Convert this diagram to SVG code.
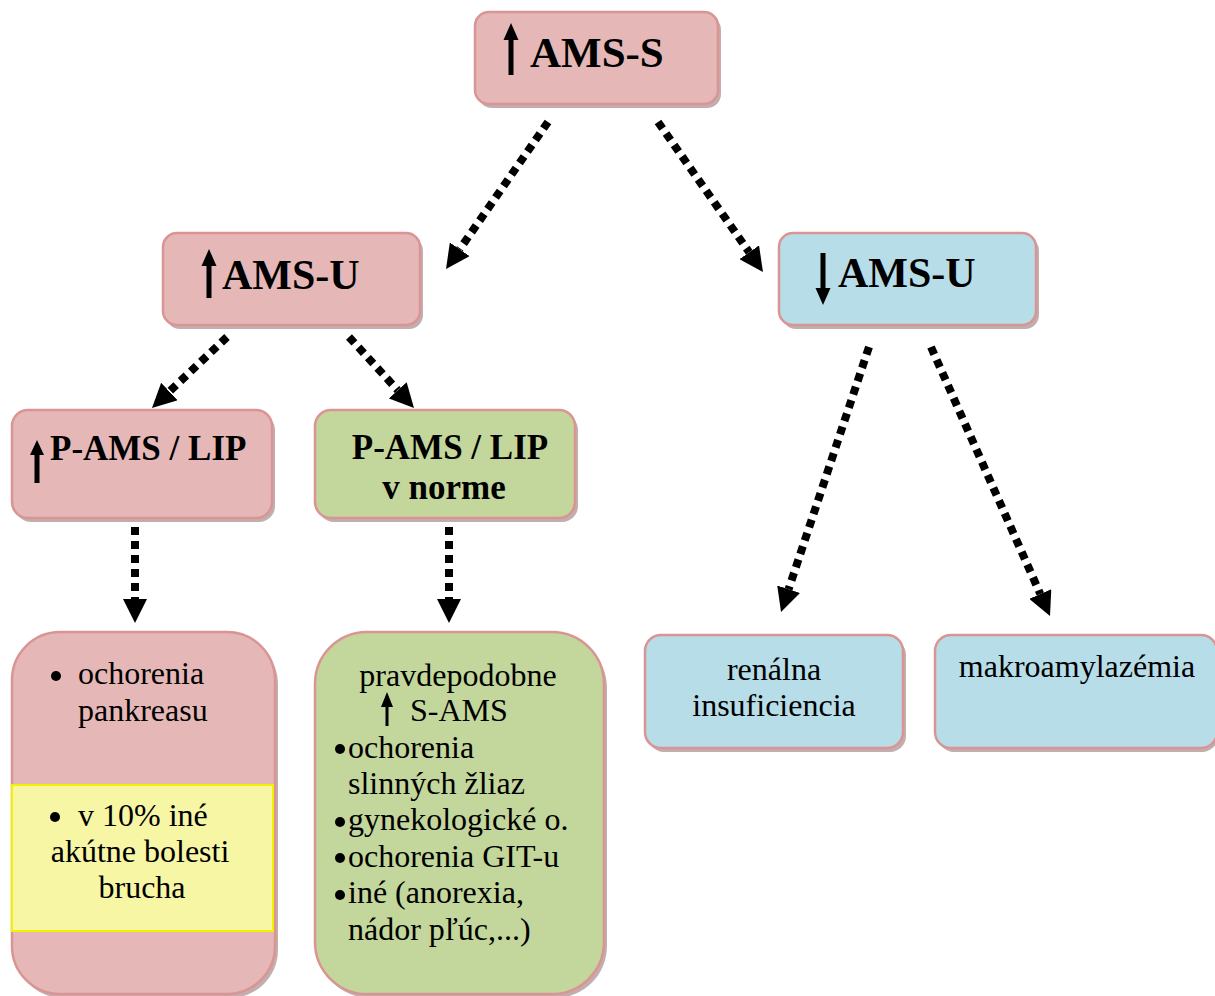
<svg xmlns="http://www.w3.org/2000/svg" width="1215" height="996" viewBox="0 0 1215 996">
<style>
.pink{fill:#E5B8B7;stroke:#D99594;stroke-width:2.5}
.blue{fill:#B7DDE8;stroke:#D99594;stroke-width:2.5}
.green{fill:#C3D69B;stroke:#D99594;stroke-width:2.5}
.shadow{fill:#A88C8C;opacity:0.7}
.hb{font-weight:bold;fill:#000}
.t{font-size:32px;fill:#000}
.conn{stroke:#000;stroke-width:8;stroke-dasharray:8 6;fill:none}
.sym{fill:#000}
</style>
<defs>
<marker id="ah" viewBox="0 -12 24 24" refX="0" refY="0" markerWidth="24" markerHeight="24" markerUnits="userSpaceOnUse" orient="auto">
<path d="M0,-12 L24,0 L0,12 z" fill="#000"/>
</marker>
</defs>
<rect width="1215" height="996" fill="#fff"/>

<g id="connectors">
<line class="conn" x1="548" y1="122" x2="459.7" y2="249.3" marker-end="url(#ah)"/>
<line class="conn" x1="658" y1="122" x2="749.2" y2="252.3" marker-end="url(#ah)"/>
<line class="conn" x1="227" y1="337" x2="169.4" y2="391.5" marker-end="url(#ah)"/>
<line class="conn" x1="349" y1="337" x2="397.8" y2="390.3" marker-end="url(#ah)"/>
<line class="conn" x1="135" y1="527" x2="135" y2="599" marker-end="url(#ah)"/>
<line class="conn" x1="449" y1="527" x2="449" y2="599" marker-end="url(#ah)"/>
<line class="conn" x1="869" y1="347" x2="788.6" y2="589.2" marker-end="url(#ah)"/>
<line class="conn" x1="931" y1="347" x2="1040.3" y2="594" marker-end="url(#ah)"/>
</g>

<g font-family="Liberation Serif, Times New Roman, serif">
<g id="ams-s">
<rect class="shadow" x="478" y="16" width="243" height="92" rx="14"/>
<rect class="pink" x="475" y="12" width="243" height="92" rx="14"/>
<path class="sym" d="M508.5,75 V40 H503.5 L511,23 L518.5,40 H513.5 V75 z"/>
<text class="hb" x="530" y="67" font-size="43">AMS-S</text>
</g>

<g id="ams-u-up">
<rect class="shadow" x="166" y="237" width="257" height="92" rx="14"/>
<rect class="pink" x="163" y="233" width="257" height="92" rx="14"/>
<path class="sym" d="M206.5,298 V266 H201.5 L209,249 L216.5,266 H211.5 V298 z"/>
<text class="hb" x="222" y="289" font-size="42">AMS-U</text>
</g>

<g id="ams-u-down">
<rect class="shadow" x="782" y="237" width="257" height="92" rx="14"/>
<rect class="blue" x="779" y="233" width="257" height="92" rx="14"/>
<path class="sym" d="M820.5,253 V288 H815.5 L823,305 L830.5,288 H825.5 V253 z"/>
<text class="hb" x="838" y="287" font-size="42">AMS-U</text>
</g>

<g id="p-ams-up">
<rect class="shadow" x="15" y="414" width="260" height="108" rx="16"/>
<rect class="pink" x="12" y="410" width="260" height="108" rx="16"/>
<path class="sym" d="M34.5,483 V455 H30 L37,440 L44,455 H39.5 V483 z"/>
<text class="hb" x="50" y="460" font-size="35">P-AMS / LIP</text>
</g>

<g id="p-ams-norm">
<rect class="shadow" x="318" y="414" width="260" height="108" rx="16"/>
<rect class="green" x="315" y="410" width="260" height="108" rx="16"/>
<text class="hb" x="450" y="459" font-size="35" text-anchor="middle">P-AMS / LIP</text>
<text class="hb" x="444" y="499" font-size="35" text-anchor="middle">v norme</text>
</g>

<g id="pankreas">
<rect class="shadow" x="15" y="636" width="263" height="362" rx="48"/>
<rect class="pink" x="12" y="632" width="263" height="362" rx="48"/>
<rect x="12" y="785" width="261" height="146" fill="#F6F6A5" stroke="#F2F200" stroke-width="2"/>
<circle class="sym" cx="56" cy="676" r="5"/>
<text class="t" x="78" y="684">ochorenia</text>
<text class="t" x="78" y="721">pankreasu</text>
<circle class="sym" cx="55" cy="817" r="5"/>
<text class="t" x="78" y="826">v 10% iné</text>
<text class="t" x="140" y="862" text-anchor="middle">akútne bolesti</text>
<text class="t" x="142" y="898" text-anchor="middle">brucha</text>
</g>

<g id="samsbox">
<rect class="shadow" x="318" y="636" width="289" height="362" rx="52"/>
<rect class="green" x="315" y="632" width="289" height="362" rx="52"/>
<text class="t" x="458" y="686" text-anchor="middle">pravdepodobne</text>
<path class="sym" d="M385.5,726 V707 H381 L387,692 L393,707 H388.5 V726 z"/>
<text class="t" x="410" y="721">S-AMS</text>
<circle class="sym" cx="340" cy="749" r="5"/>
<text class="t" x="348" y="758">ochorenia</text>
<text class="t" x="348" y="794">slinných žliaz</text>
<circle class="sym" cx="340" cy="822" r="5"/>
<text class="t" x="348" y="830">gynekologické o.</text>
<circle class="sym" cx="340" cy="858" r="5"/>
<text class="t" x="348" y="867">ochorenia GIT-u</text>
<circle class="sym" cx="340" cy="895" r="5"/>
<text class="t" x="348" y="903">iné (anorexia,</text>
<text class="t" x="348" y="940">nádor pľúc,...)</text>
</g>

<g id="renalna">
<rect class="shadow" x="648" y="639" width="258" height="113" rx="16"/>
<rect class="blue" x="645" y="635" width="258" height="113" rx="16"/>
<text class="t" x="774" y="680" text-anchor="middle">renálna</text>
<text class="t" x="774" y="716" text-anchor="middle">insuficiencia</text>
</g>

<g id="makro">
<rect class="shadow" x="938" y="639" width="280" height="113" rx="16"/>
<rect class="blue" x="935" y="635" width="282" height="113" rx="16"/>
<text class="t" x="1077" y="677" text-anchor="middle">makroamylazémia</text>
</g>
</g>
</svg>
